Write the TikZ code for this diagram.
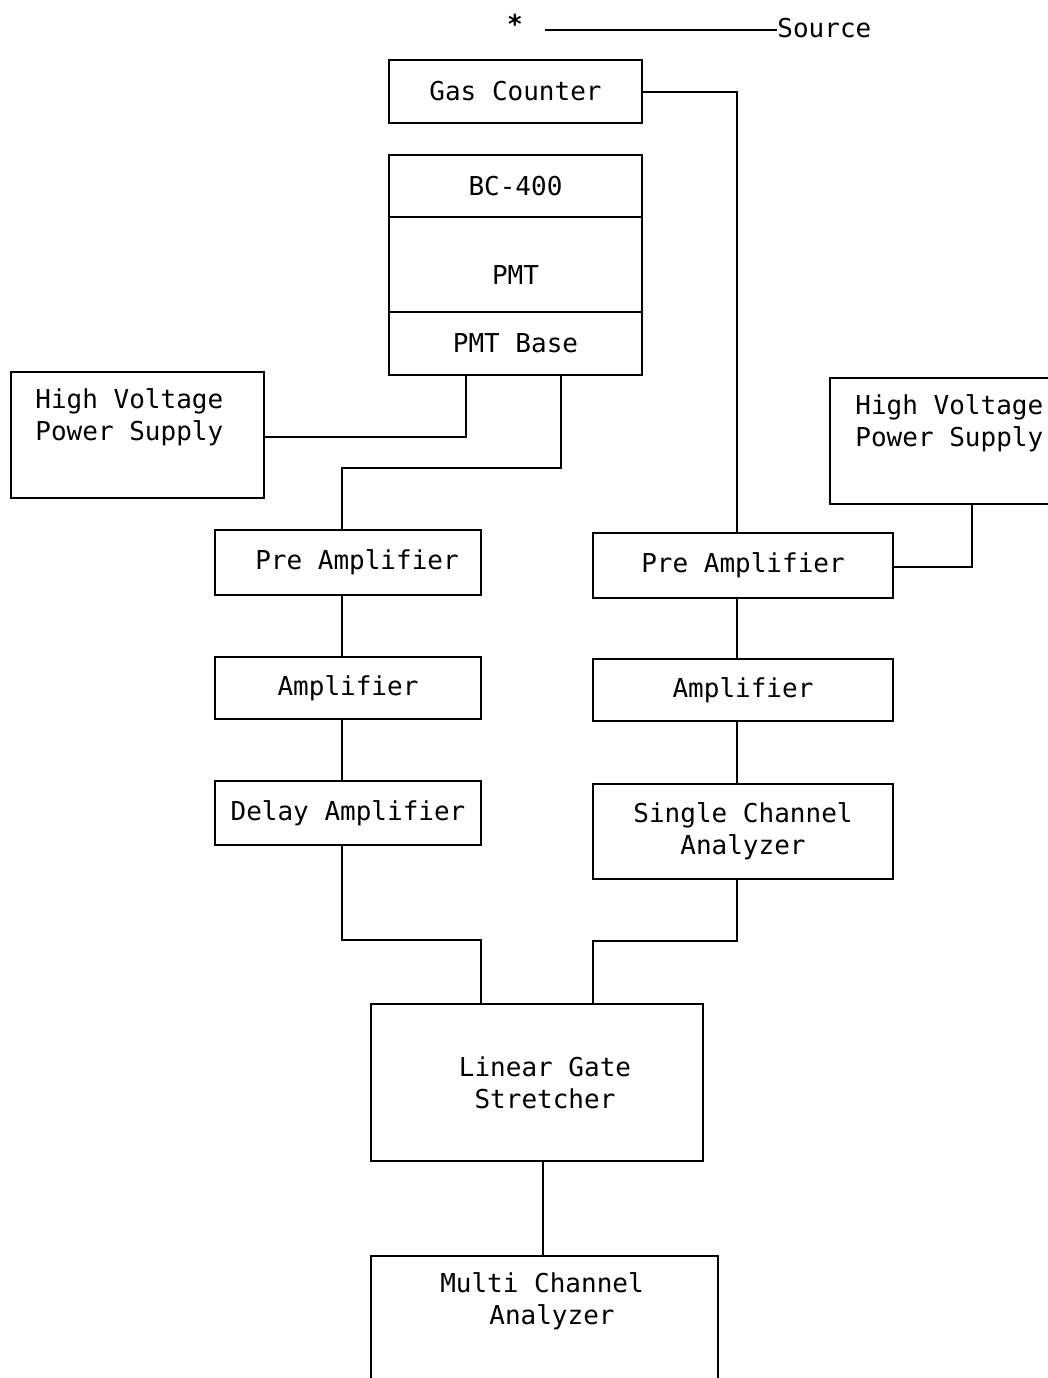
\documentclass[tikz,border=0pt]{standalone}
\usepackage{fontspec}
\setmainfont{DejaVu Sans Mono}
\usepackage{tikz}
\usetikzlibrary{positioning, calc}
\tikzset{
  block/.style={rectangle, draw=black, fill=white, inner sep=0pt, outer sep=0pt,
    align=center, font=\fontsize{13}{16}\selectfont, line width=0.7pt},
  hvtext/.style={inner sep=0pt, align=left, anchor=north west,
    font=\fontsize{13}{16}\selectfont},
  plain/.style={inner sep=0pt, font=\fontsize{13}{16}\selectfont},
  line/.style={line width=0.7pt, color=black}
}

\begin{document}
\begin{tikzpicture}[x=0.5pt, y=-0.5pt]
  \useasboundingbox (0,0) rectangle (1048,1378);
  \clip (0,0) rectangle (1048,1378);

  % source on top
  \node[plain] (star) at (515,24) {\textbf{*}};
  \node[plain, anchor=west] (src) at (777,28) {Source};
  \coordinate (srcl) at (545,30);
  \draw[line] (srcl) -- (srcl -| src.west);

  % detectors
  \node[block, minimum width=126.5pt, minimum height=31.5pt] (gas) at (515.5,91.5) {Gas Counter};
  \node[block, minimum width=126.5pt, minimum height=31pt] (bc) at (515.5,186) {BC-400};
  \node[block, minimum width=126.5pt, minimum height=47.5pt, below=0pt of bc] (pmt) {\\[4pt]PMT};
  \node[block, minimum width=126.5pt, minimum height=31.5pt, below=0pt of pmt] (base) {PMT Base};

  % high voltage
  \node[block, minimum width=126.5pt, minimum height=63pt] (hvl) at (137.5,435) {};
  \node[hvtext] (hvltxt) at (35,388) {High Voltage\\Power Supply};
  \node[block, minimum width=125pt, minimum height=63pt, anchor=west] (hvr) at (830,441) {};
  \node[hvtext] (hvrtxt) at (855,394) {High Voltage\\Power Supply};

  % left chain
  \node[block, minimum width=133pt, minimum height=32.5pt] (prel) at (348,562.5) {\hspace*{9pt}Pre Amplifier};
  \node[block, minimum width=133pt, minimum height=31pt] (ampl) at (348,688) {Amplifier};
  \node[block, minimum width=133pt, minimum height=32pt] (dly) at (348,813) {Delay Amplifier};

  % right chain
  \node[block, minimum width=150pt, minimum height=32.5pt] (prer) at (743,565.5) {Pre Amplifier};
  \node[block, minimum width=150pt, minimum height=31pt] (ampr) at (743,690) {Amplifier};
  \node[block, minimum width=150pt, minimum height=47.5pt] (sca) at (743,831.5) {Single Channel\\Analyzer};

  % gate and analyzer
  \node[block, minimum width=166pt, minimum height=78.5pt] (lgs) at (537,1082.5) {\hspace*{8pt}Linear Gate\\\hspace*{8pt}Stretcher};
  \node[block, minimum width=173.5pt, minimum height=90pt, anchor=north] (mca) at (544.5,1256) {};
  \node[plain, align=center, anchor=north] (mcatxt) at (542,1272) {Multi Channel\\\hspace*{10pt}Analyzer};

  % connections
  \draw[line] (gas.east |- 0,92) -| (prer.north -| 737,0);
  \draw[line] (hvl.east |- 0,437) -| (base.south -| 466,0);
  \draw[line] (base.south -| 561,0) |- (342,468) -- (prel.north -| 342,0);
  \draw[line] (prel.south -| 342,0) -- (ampl.north -| 342,0);
  \draw[line] (ampl.south -| 342,0) -- (dly.north -| 342,0);
  \draw[line] (dly.south -| 342,0) |- (481,940) -- (lgs.north -| 481,0);
  \draw[line] (hvr.south -| 972,0) |- (prer.east |- 0,567);
  \draw[line] (prer.south -| 737,0) -- (ampr.north -| 737,0);
  \draw[line] (ampr.south -| 737,0) -- (sca.north -| 737,0);
  \draw[line] (sca.south -| 737,0) |- (593,941) -- (lgs.north -| 593,0);
  \draw[line] (lgs.south -| 543,0) -- (mca.north -| 543,0);
\end{tikzpicture}
\end{document}
